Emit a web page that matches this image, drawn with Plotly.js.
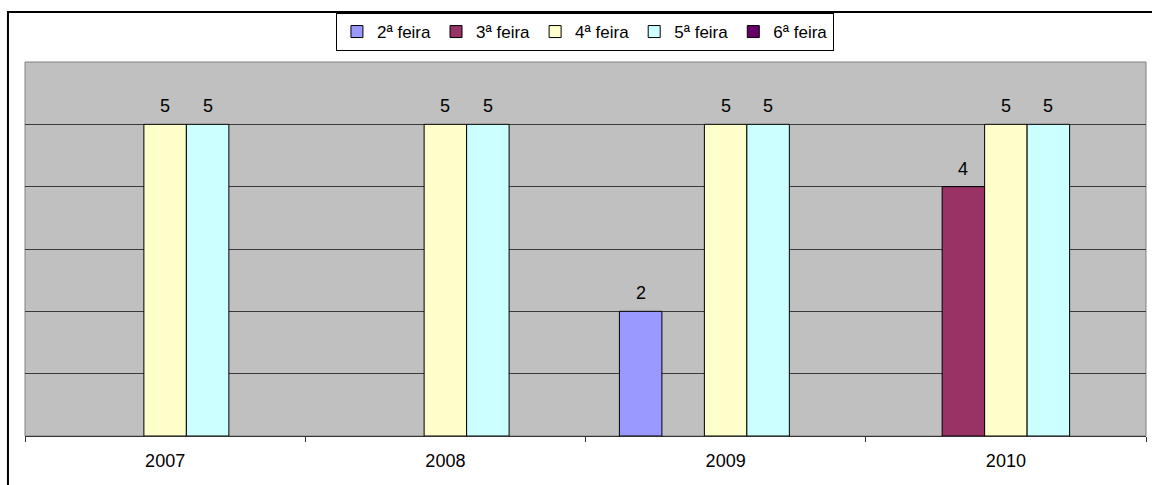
<!DOCTYPE html>
<html>
<head>
<meta charset="utf-8">
<script src="https://cdn.plot.ly/plotly-3.0.1.min.js"></script>
<style>html,body{margin:0;padding:0;background:#fff;}#chart{width:1152px;height:485px;}</style>
</head>
<body>
<div id="chart"></div>
<script>
const categories = ['2007', '2008', '2009', '2010'];
const seriesNames = ['2ª feira', '3ª feira', '4ª feira', '5ª feira', '6ª feira'];
const seg = [null, null, 2, null];
const ter = [null, null, null, 4];
const qua = [5, 5, 5, 5];
const qui = [5, 5, 5, 5];
const sex = [null, null, null, null];
const seriesValues = [seg, ter, qua, qui, sex];
const seriesColors = ['#9999FF', '#993366', '#FFFFCC', '#CCFFFF', '#660066'];

const FONT = 'Arial, "Liberation Sans", sans-serif';
const bargap = 0.242;
const nSeries = seriesValues.length;
const barW = (1 - bargap) / nSeries;

const traces = seriesValues.map((vals, i) => ({
  type: 'bar',
  name: seriesNames[i],
  x: categories,
  y: vals,
  marker: {color: seriesColors[i], line: {color: '#000', width: 1}},
  hoverinfo: 'x+y+name'
}));

const annotations = [];
seriesValues.forEach((vals, i) => {
  vals.forEach((v, j) => {
    if (v !== null && v !== undefined) {
      annotations.push({
        x: j + (i - (nSeries - 1) / 2) * barW,
        y: v,
        xref: 'x', yref: 'y',
        text: String(v),
        showarrow: false,
        yanchor: 'bottom',
        yshift: 6,
        font: {family: FONT, size: 18, color: '#000'}
      });
    }
  });
});

const layout = {
  width: 1152, height: 485,
  margin: {l: 25, r: 6, t: 62, b: 49, pad: 0},
  paper_bgcolor: '#fff',
  plot_bgcolor: '#C0C0C0',
  barmode: 'group',
  bargap: bargap,
  bargroupgap: 0,
  showlegend: true,
  legend: {
    orientation: 'h',
    x: 0.4995, xanchor: 'center',
    y: 1.131, yanchor: 'top',
    bgcolor: '#fff',
    bordercolor: '#000', borderwidth: 1,
    font: {family: FONT, size: 17, color: '#000'},
    traceorder: 'normal',
    itemwidth: 30
  },
  xaxis: {
    type: 'category',
    tickson: 'boundaries',
    ticks: 'outside', ticklen: 5, tickcolor: '#333', tickwidth: 1,
    ticklabelstandoff: 8,
    showline: true, linecolor: '#333', linewidth: 1,
    showgrid: false,
    tickfont: {family: FONT, size: 18, color: '#000'},
    fixedrange: true
  },
  yaxis: {
    range: [0, 6], dtick: 1,
    showticklabels: false,
    showgrid: true, gridcolor: '#3a3a3a', gridwidth: 1,
    zeroline: false,
    showline: false,
    ticks: '',
    fixedrange: true
  },
  annotations: annotations,
  shapes: [
    {type: 'rect', xref: 'paper', yref: 'paper', x0: 0, x1: 1, y0: 0, y1: 1,
     line: {color: '#808080', width: 1}, fillcolor: 'rgba(0,0,0,0)', layer: 'below'},
    {type: 'rect', xref: 'paper', yref: 'paper', x0: -0.0152, x1: 1.06, y0: -0.2, y1: 1.1337,
     line: {color: '#000', width: 2}, fillcolor: 'rgba(0,0,0,0)', layer: 'above'}
  ],
  font: {family: FONT, color: '#000'}
};

Plotly.newPlot('chart', traces, layout, {displayModeBar: false, staticPlot: true});
</script>
</body>
</html>
